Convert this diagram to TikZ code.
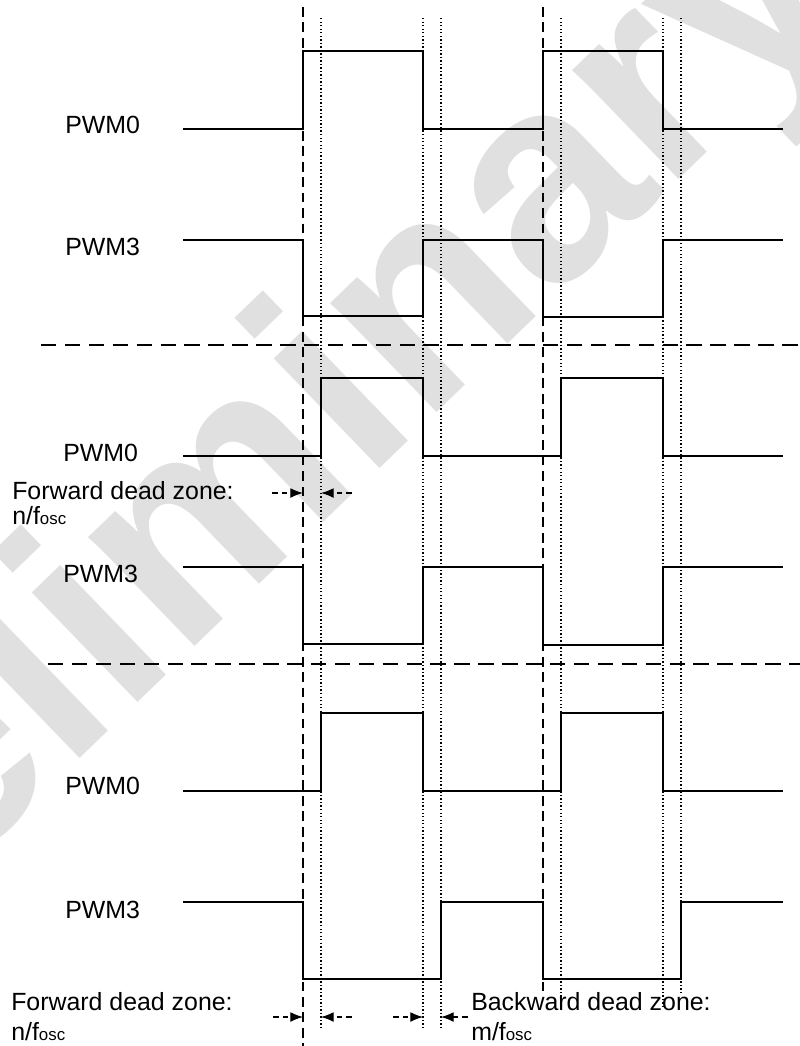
\documentclass[tikz,border=0pt]{standalone}
\usepackage{fontspec}
\setmainfont{Liberation Sans}
\usepackage{tikz}
\usetikzlibrary{arrows.meta}
\definecolor{wmgray}{RGB}{224,224,224}
\tikzset{
  sig/.style={line width=2pt, line join=miter},
  edge/.style={line width=0.8pt, dash pattern=on 7pt off 4pt},
  edgedot/.style={line width=0.8pt, dash pattern=on 1pt off 1.5pt},
  sep/.style={line width=1pt, dash pattern=on 11pt off 6pt},
  zone/.style={line width=0.8pt, dash pattern=on 4pt off 3pt, -{Latex[length=9pt,width=7pt]}},
  lbl/.style={font=\fontsize{17.7}{20}\selectfont, inner sep=0pt}
}
\newcommand{\fosc}{f{\fontsize{12}{12}\selectfont osc}}

\begin{document}
\begin{tikzpicture}[x=0.025cm, y=-0.025cm]
  \useasboundingbox (0,0) rectangle (800,1046);
  \begin{scope} %Wasserzeichen
    \clip (0,0) rectangle (800,1046);
    \node [wmgray, anchor=base west, rotate=44, inner sep=0pt, font=\fontsize{205}{205}\selectfont\bfseries] (wm) at (-269,1095) {Preliminary};
  \end{scope}
  %Zeitmarken
  \draw [edge] (303,7) -- (303,1046);
  \draw [edgedot] (321,18) -- (321,1027);
  \draw [edgedot] (423,18) -- (423,1027);
  \draw [edgedot] (441,18) -- (441,1027);
  \draw [edge] (543,7) -- (543,992);
  \draw [edgedot] (561,18) -- (561,1008);
  \draw [edgedot] (663,18) -- (663,1008);
  \draw [edgedot] (681,18) -- (681,995);
  %Trennlinien
  \draw [sep] (41,345) -- (800,345);
  \draw [sep] (48,664) -- (800,664);
  %ohne Totzeit
  \node [lbl, anchor=west] (pwm0a) at (65,125) {PWM0};
  \draw [sig] (183,129) -- (303,129) -- (303,51) -- (423,51) -- (423,129) -- (543,129) -- (543,51) -- (663,51) -- (663,129) -- (783,129);
  \node [lbl, anchor=west] (pwm3a) at (65,247) {PWM3};
  \draw [sig] (183,240) -- (303,240) -- (303,316) -- (423,316) -- (423,240) -- (543,240) -- (543,317) -- (663,317) -- (663,240) -- (783,240);
  %Vorwaerts-Totzeit
  \node [lbl, anchor=west] (pwm0b) at (63,453) {PWM0};
  \draw [sig] (183,456) -- (321,456) -- (321,378) -- (423,378) -- (423,456) -- (561,456) -- (561,378) -- (663,378) -- (663,456) -- (783,456);
  \node [lbl, anchor=west] (pwm3b) at (63,574) {PWM3};
  \draw [sig] (183,567) -- (303,567) -- (303,644) -- (423,644) -- (423,567) -- (543,567) -- (543,645) -- (663,645) -- (663,567) -- (783,567);
  \node [lbl, anchor=base west] (fwdb) at (12,499) {Forward dead zone:};
  \node [lbl, anchor=base west] (fwdbn) at (12,524) {n/\fosc};
  \coordinate (fb1) at (272,493);
  \coordinate (fb2) at (303,493);
  \coordinate (fb3) at (352,493);
  \coordinate (fb4) at (321,493);
  \draw [zone] (fb1) -- (fb2);
  \draw [zone] (fb3) -- (fb4);
  %Vorwaerts- und Rueckwaerts-Totzeit
  \node [lbl, anchor=west] (pwm0c) at (65,786) {PWM0};
  \draw [sig] (183,791) -- (321,791) -- (321,713) -- (423,713) -- (423,791) -- (561,791) -- (561,713) -- (663,713) -- (663,791) -- (783,791);
  \node [lbl, anchor=west] (pwm3c) at (65,910) {PWM3};
  \draw [sig] (183,902) -- (303,902) -- (303,979) -- (441,979) -- (441,902) -- (543,902) -- (543,979) -- (681,979) -- (681,902) -- (783,902);
  \node [lbl, anchor=base west] (fwdc) at (11,1010) {Forward dead zone:};
  \node [lbl, anchor=base west] (fwdcn) at (11,1040) {n/\fosc};
  \node [lbl, anchor=base west] (bwdc) at (471,1010) {Backward dead zone:};
  \node [lbl, anchor=base west] (bwdcm) at (471,1040) {m/\fosc};
  \coordinate (fc1) at (273,1017);
  \coordinate (fc2) at (303,1017);
  \coordinate (fc3) at (352,1017);
  \coordinate (fc4) at (321,1017);
  \coordinate (bc1) at (393,1017);
  \coordinate (bc2) at (423,1017);
  \coordinate (bc3) at (468,1017);
  \coordinate (bc4) at (441,1017);
  \draw [zone] (fc1) -- (fc2);
  \draw [zone] (fc3) -- (fc4);
  \draw [zone] (bc1) -- (bc2);
  \draw [zone] (bc3) -- (bc4);
\end{tikzpicture}
\end{document}
